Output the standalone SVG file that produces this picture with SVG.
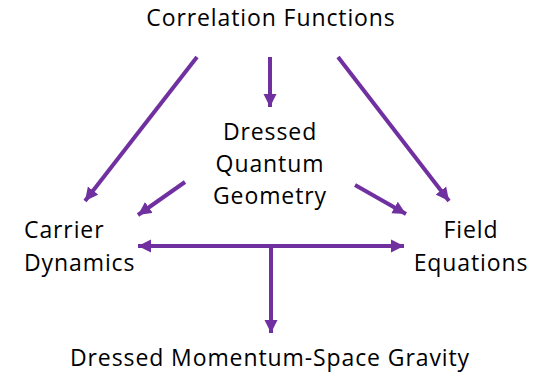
<svg xmlns="http://www.w3.org/2000/svg" width="543" height="377" viewBox="0 0 543 377">
<style>
text{font-family:"Open Sans","Liberation Sans",sans-serif;font-size:23px;letter-spacing:0.9px;fill:#000}
.c{text-anchor:middle}
.ln{stroke:#7030A0;stroke-width:4;fill:none}
</style>
<defs>
<marker id="ah" viewBox="0 0 10 10" refX="10" refY="5" markerWidth="3.3" markerHeight="3.5" markerUnits="strokeWidth" orient="auto-start-reverse">
<path d="M0,0 L10,5 L0,10 Z" fill="#7030A0"/>
</marker>
</defs>
<rect width="543" height="377" fill="#fff"/>
<g id="corr"><text class="c" x="271" y="26">Correlation Functions</text></g>
<g id="geom"><text class="c" x="270" y="140">Dressed</text><text class="c" x="270" y="172">Quantum</text><text class="c" x="270" y="204">Geometry</text></g>
<g id="carrier"><text x="24" y="238">Carrier</text><text x="24" y="271">Dynamics</text></g>
<g id="field"><text class="c" x="471" y="238">Field</text><text class="c" x="471" y="271">Equations</text></g>
<g id="gravity"><text class="c" x="270" y="366">Dressed Momentum-Space Gravity</text></g>
<g id="connectors">
<line class="ln" x1="197" y1="57" x2="85" y2="201" marker-end="url(#ah)"/>
<line class="ln" x1="270" y1="57" x2="270" y2="107" marker-end="url(#ah)"/>
<line class="ln" x1="338" y1="57" x2="449" y2="201" marker-end="url(#ah)"/>
<line class="ln" x1="185" y1="182" x2="138" y2="215" marker-end="url(#ah)"/>
<line class="ln" x1="355" y1="185" x2="406" y2="214" marker-end="url(#ah)"/>
<line class="ln" x1="138" y1="246" x2="404" y2="246" marker-start="url(#ah)" marker-end="url(#ah)"/>
<line class="ln" x1="271" y1="246" x2="271" y2="333" marker-end="url(#ah)"/>
</g>
</svg>
